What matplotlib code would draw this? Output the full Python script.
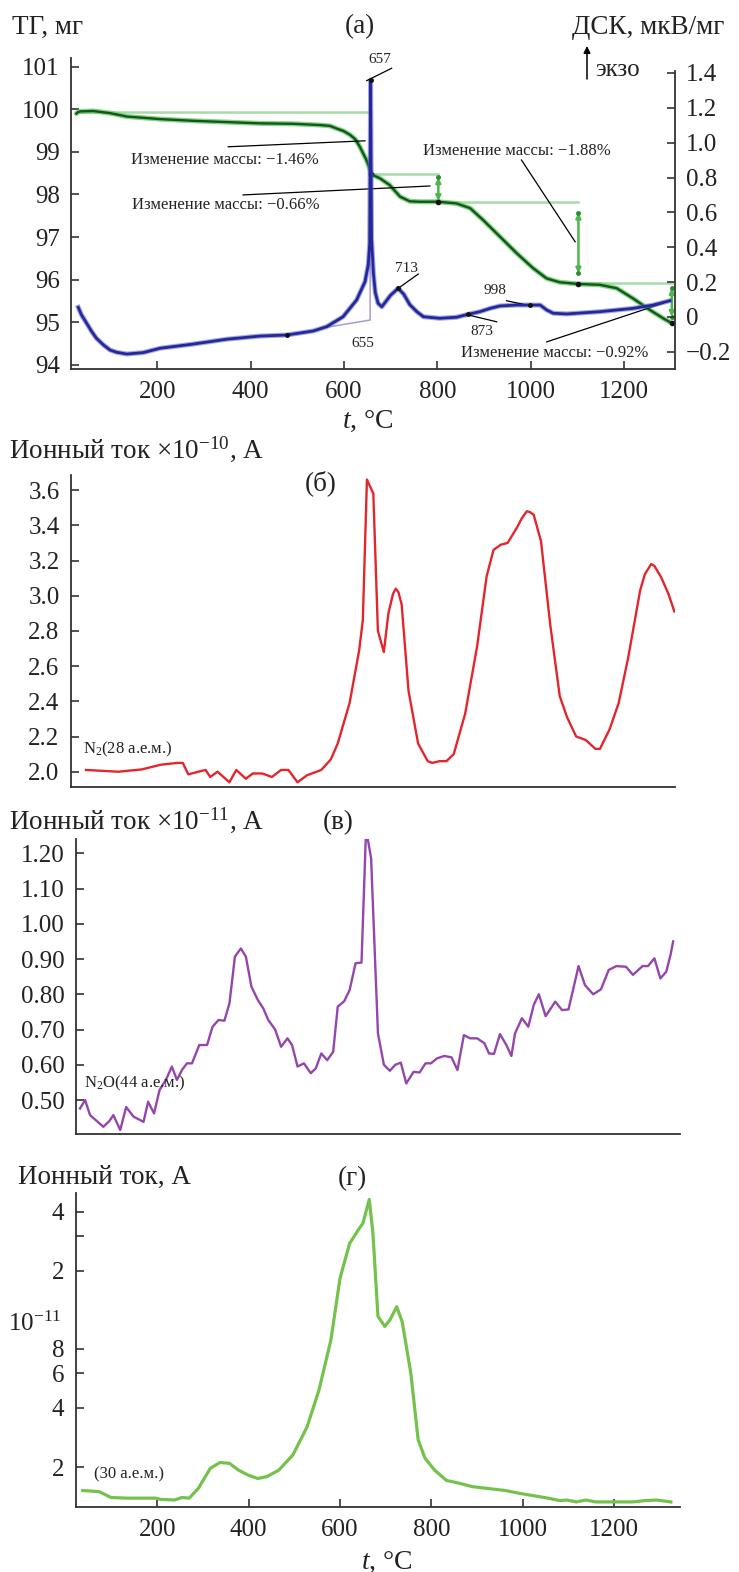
import matplotlib
matplotlib.use("Agg")
import matplotlib.pyplot as plt
from matplotlib.ticker import FixedLocator, FixedFormatter, NullLocator
from matplotlib.transforms import blended_transform_factory

plt.rcParams['font.family'] = ['Liberation Serif', 'DejaVu Serif']
plt.rcParams['mathtext.fontset'] = 'custom'
plt.rcParams['mathtext.rm'] = 'Liberation Serif'
plt.rcParams['mathtext.it'] = 'Liberation Serif:italic'
plt.rcParams['mathtext.bf'] = 'Liberation Serif:bold'

# ---------------- data ----------------
# (a) TG, mg
tg_t = [27, 30, 35, 63, 99, 135, 206, 277, 349, 420, 491, 549, 570, 584, 599, 613, 624, 634, 648,
        656, 657, 677, 698, 720, 741, 763, 802, 841, 870, 898, 934, 970, 1005, 1034, 1062, 1102,
        1148, 1184, 1219, 1255, 1284, 1302]
tg_mg = [99.90, 99.93, 99.95, 99.96, 99.91, 99.83, 99.77, 99.73, 99.70, 99.67, 99.66, 99.63,
         99.61, 99.55, 99.49, 99.40, 99.30, 99.12, 98.81, 98.58, 98.48, 98.38, 98.22, 97.95,
         97.84, 97.83, 97.83, 97.79, 97.68, 97.40, 97.01, 96.62, 96.27, 96.03, 95.94, 95.90,
         95.88, 95.80, 95.56, 95.29, 95.09, 94.98]
# (a) DSC, uV/mg
dsc_t = [31, 38, 49, 60, 70, 85, 99, 113, 135, 170, 206, 277, 349, 420, 477, 534, 563, 598, 627,
         645, 652, 655, 657, 659, 663, 667, 673, 681, 690, 700, 716, 728, 741, 756, 770, 805, 841,
         866, 891, 913, 934, 970, 998, 1020, 1034, 1048, 1077, 1148, 1219, 1262, 1298]
dsc_v = [0.055, 0.011, -0.037, -0.085, -0.123, -0.161, -0.19, -0.203, -0.213, -0.205, -0.18,
         -0.156, -0.128, -0.11, -0.104, -0.081, -0.056, 0.001, 0.097, 0.202, 0.30, 0.42, 1.36,
         0.45, 0.25, 0.14, 0.078, 0.058, 0.09, 0.125, 0.164, 0.13, 0.07, 0.03, 0.001, -0.008,
         -0.002, 0.015, 0.03, 0.049, 0.063, 0.068, 0.068, 0.068, 0.04, 0.021, 0.017, 0.03, 0.049,
         0.068, 0.093]
base_t = [562, 656, 656]
base_v = [-0.06, -0.018, 0.53]
# mass-step reference levels (TG)
step_t0 = [35, 659, 802, 1102]
step_t1 = [652, 802, 1102, 1302]
step_lv = [99.94, 98.48, 97.83, 95.92]
arrow_t = [802, 1102, 1302]
arrow_top = [98.40, 97.57, 95.80]
arrow_bot = [97.85, 96.15, 95.13]
mass_changes = ['−1.46%', '−0.66%', '−1.88%', '−0.92%']
peak_labels = ['657', '713', '998', '873', '655']

tg_ticks = [94, 95, 96, 97, 98, 99, 100, 101]
dsc_ticks = [-0.2, 0, 0.2, 0.4, 0.6, 0.8, 1.0, 1.2, 1.4]
dsc_tick_labels = ['−0.2', '0', '0.2', '0.4', '0.6', '0.8', '1.0', '1.2', '1.4']
t_ticks = [200, 400, 600, 800, 1000, 1200]

# (б) N2, x1e-10 A
n2_t = [44, 115, 166, 208, 244, 256, 268, 290, 306, 316, 332, 358, 373, 394, 409, 430, 451, 471,
        487, 507, 528, 559, 580, 595, 621, 642, 650, 659, 673, 683, 696, 706, 716, 722, 728, 735,
        750, 771, 792, 802, 818, 833, 849, 874, 900, 921, 936, 952, 967, 988, 998, 1009, 1016,
        1024, 1040, 1060, 1081, 1097, 1117, 1138, 1159, 1169, 1190, 1210, 1231, 1257, 1267, 1281,
        1288, 1303, 1319, 1332]
n2_v = [2.01, 2.0, 2.013, 2.04, 2.05, 2.05, 1.985, 2.0, 2.01, 1.97, 2.0, 1.94, 2.01, 1.96, 1.99,
        1.99, 1.97, 2.01, 2.01, 1.94, 1.98, 2.01, 2.07, 2.16, 2.39, 2.69, 2.86, 3.66, 3.58, 2.80,
        2.68, 2.90, 3.01, 3.04, 3.02, 2.95, 2.46, 2.16, 2.06, 2.05, 2.06, 2.06, 2.10, 2.33, 2.71,
        3.11, 3.26, 3.29, 3.30, 3.39, 3.44, 3.48, 3.475, 3.46, 3.31, 2.84, 2.43, 2.31, 2.20, 2.18,
        2.13, 2.13, 2.24, 2.39, 2.65, 3.03, 3.12, 3.18, 3.17, 3.105, 3.01, 2.91]
n2_ticks = [2.0, 2.2, 2.4, 2.6, 2.8, 3.0, 3.2, 3.4, 3.6]

# (в) N2O, x1e-11 A
n2o_t = [31, 42, 53, 68, 82, 95, 104, 119, 132, 148, 170, 180, 193, 205, 220, 232, 243, 254, 265,
         276, 292, 309, 321, 334, 347, 358, 370, 383, 394, 406, 420, 432, 443, 458, 471, 485, 495,
         507, 521, 536, 547, 559, 572, 585, 595, 609, 621, 634, 647, 657, 668, 683, 696, 709, 721,
         733, 745, 761, 774, 787, 799, 812, 828, 844, 857, 871, 885, 900, 916, 926, 937, 950, 964,
         975, 983, 998, 1012, 1024, 1035, 1050, 1071, 1086, 1100, 1122, 1136, 1154, 1171, 1188,
         1205, 1226, 1241, 1262, 1274, 1288, 1301, 1314, 1324, 1329]
n2o_v = [0.476, 0.50, 0.457, 0.44, 0.424, 0.44, 0.457, 0.415, 0.48, 0.453, 0.438, 0.495, 0.462,
         0.528, 0.56, 0.595, 0.557, 0.585, 0.604, 0.604, 0.656, 0.656, 0.708, 0.727, 0.725, 0.774,
         0.907, 0.93, 0.907, 0.822, 0.784, 0.76, 0.727, 0.70, 0.651, 0.675, 0.656, 0.595, 0.604,
         0.576, 0.59, 0.632, 0.613, 0.637, 0.765, 0.78, 0.812, 0.888, 0.89, 1.268, 1.186, 0.689,
         0.60, 0.583, 0.60, 0.606, 0.547, 0.58, 0.578, 0.604, 0.604, 0.618, 0.625, 0.621, 0.585,
         0.684, 0.675, 0.675, 0.661, 0.632, 0.631, 0.687, 0.656, 0.625, 0.689, 0.732, 0.708, 0.77,
         0.80, 0.738, 0.779, 0.755, 0.757, 0.88, 0.826, 0.80, 0.814, 0.869, 0.88, 0.878, 0.855,
         0.88, 0.88, 0.902, 0.845, 0.864, 0.916, 0.95]
n2o_ticks = [0.5, 0.6, 0.7, 0.8, 0.9, 1.0, 1.1, 1.2]
n2o_tick_labels = ['0.50', '0.60', '0.70', '0.80', '0.90', '1.00', '1.10', '1.20']

# (г) mass 30, A (values in units of 1e-12 A)
m30_t = [37, 73, 99, 135, 197, 207, 238, 254, 270, 290, 316, 337, 358, 378, 399, 420, 440, 466,
         497, 528, 554, 580, 600, 621, 642, 650, 664, 672, 683, 698, 709, 724, 736, 755, 771, 786,
         807, 833, 854, 890, 941, 962, 993, 1024, 1055, 1081, 1096, 1117, 1138, 1159, 1200, 1241,
         1267, 1293, 1324]
m30_v = [1.52, 1.50, 1.40, 1.39, 1.39, 1.37, 1.36, 1.40, 1.39, 1.56, 1.97, 2.11, 2.09, 1.93, 1.82,
         1.75, 1.79, 1.93, 2.31, 3.21, 4.94, 8.87, 18.3, 27.5, 32.8, 34.8, 46.1, 31.0, 11.7, 10.4,
         11.2, 13.1, 11.0, 6.0, 2.75, 2.22, 1.93, 1.71, 1.67, 1.59, 1.54, 1.52, 1.47, 1.43, 1.39,
         1.35, 1.36, 1.33, 1.36, 1.33, 1.33, 1.33, 1.35, 1.36, 1.33]
m30_scale = 1e-12
m30_ticks = [2e-12, 4e-12, 6e-12, 8e-12, 2e-11, 3e-11, 4e-11]
m30_tick_labels = ['2', '4', '6', '8', '2', '', '4']

# ---------------- figure ----------------
W, H = 739, 1572
fig = plt.figure(figsize=(W / 100, H / 100), dpi=100)

def rect(l, r, t, b):
    return [l / W, 1 - b / H, (r - l) / W, (b - t) / H]

def fx(x):
    return x / W

def fy(y):
    return 1 - y / H

TICK = 18
LAB = 19.5
ANN = 12
SMALL = 11
SPC = '#333333'
TXT = '#222222'

def style(ax, left=True, bottom=True, right=False):
    for s in ['top', 'right', 'left', 'bottom']:
        ax.spines[s].set_visible(False)
    for s, on in [('left', left), ('bottom', bottom), ('right', right)]:
        if on:
            ax.spines[s].set_visible(True)
            ax.spines[s].set_color(SPC)
            ax.spines[s].set_linewidth(1.3)
    ax.tick_params(direction='in', length=6, width=1.2, color=SPC,
                   labelsize=TICK, labelcolor=TXT)
    ax.tick_params(axis='y', pad=8)
    ax.tick_params(axis='x', pad=9)
    ax.patch.set_alpha(0)

# ----- (a) -----
ax = fig.add_axes(rect(70.8, 675, 58, 369))
style(ax)
ax.set_xlim(15, 1308.8)
ax.set_ylim(93.904, 101.204)
ax.set_xticks(t_ticks)
ax.set_yticks(tg_ticks)

ax2 = ax.twinx()
style(ax2, left=False, bottom=False, right=True)
ax2.set_ylim(-0.299, 1.486)
ax2.spines['right'].set_bounds(-0.299, 1.41)
ax2.yaxis.set_major_locator(FixedLocator(dsc_ticks))
ax2.yaxis.set_major_formatter(FixedFormatter(dsc_tick_labels))
ax2.tick_params(axis='y', right=True, left=False, labelright=True, labelleft=False)

# step reference lines
for t0, t1, lv in zip(step_t0, step_t1, step_lv):
    ax.plot([t0, t1], [lv, lv], color='#a6dca6', lw=1.8, zorder=1)
for ta, top, bot in zip(arrow_t, arrow_top, arrow_bot):
    ax.annotate('', xy=(ta, bot), xytext=(ta, top),
                arrowprops=dict(arrowstyle='<|-|>', color='#4cb84c', lw=1.8,
                                mutation_scale=7, shrinkA=0, shrinkB=0), zorder=2)
    ax.plot([ta, ta], [top, bot], 'o', color='#2e8b2e', ms=2.5, zorder=3)

ax.plot(tg_t, tg_mg, color='#6cc46c', lw=3.6, alpha=0.8, zorder=3, solid_capstyle='round',
        solid_joinstyle='round')
ax.plot(tg_t, tg_mg, color='#0d5a16', lw=1.7, zorder=4, solid_joinstyle='round')
ax.plot([657, 802, 1102, 1302], [98.48, 97.83, 95.90, 94.98], 'o', color='#111111', ms=3,
        zorder=5)

# mass change annotations
ax.plot([352, 645], [99.12, 99.26], color='black', lw=0.9, zorder=6)
ax.text(344, 98.81, 'Изменение массы: ' + mass_changes[0], fontsize=ANN, color=TXT,
        ha='center', va='center')
ax.plot([384, 784], [97.99, 98.20], color='black', lw=0.9, zorder=6)
ax.text(348, 97.75, 'Изменение массы: ' + mass_changes[1], fontsize=ANN, color=TXT,
        ha='center', va='center')
ax.plot([980, 1095], [98.81, 96.89], color='black', lw=0.9, zorder=6)
ax.text(970, 99.03, 'Изменение массы: ' + mass_changes[2], fontsize=ANN, color=TXT,
        ha='center', va='center')
ax.plot([1034, 1284], [94.54, 95.45], color='black', lw=0.9, zorder=6)
ax.text(1052, 94.29, 'Изменение массы: ' + mass_changes[3], fontsize=ANN, color=TXT,
        ha='center', va='center')

# DSC
ax2.plot(base_t, base_v, color='#a79ad8', lw=1.1, zorder=1)
ax2.plot(dsc_t, dsc_v, color='#6a70cc', lw=3.6, alpha=0.6, zorder=2, solid_joinstyle='round')
ax2.plot(dsc_t, dsc_v, color='#25289a', lw=2.0, zorder=3, solid_joinstyle='round')
ax2.plot([477, 657, 716, 866, 998], [-0.104, 1.36, 0.164, 0.015, 0.068], 'o',
         color='#111111', ms=2.5, zorder=4)
ax2.plot([648.6, 702], [1.356, 1.427], color='black', lw=0.9)
ax2.text(677, 1.475, peak_labels[0], fontsize=SMALL, color=TXT, ha='center', va='center')
ax2.plot([716, 759], [0.164, 0.246], color='black', lw=0.9)
ax2.text(734, 0.279, peak_labels[1], fontsize=SMALL, color=TXT, ha='center', va='center')
ax2.plot([948, 998], [0.093, 0.064], color='black', lw=0.9)
ax2.text(923, 0.149, peak_labels[2], fontsize=SMALL, color=TXT, ha='center', va='center')
ax2.plot([866, 927], [0.011, -0.028], color='black', lw=0.9)
ax2.text(895, -0.085, peak_labels[3], fontsize=SMALL, color=TXT, ha='center', va='center')
ax2.text(641, -0.152, peak_labels[4], fontsize=SMALL, color=TXT, ha='center', va='center')

fig.text(fx(12), fy(27), 'ТГ, мг', fontsize=LAB, color=TXT, ha='left', va='center')
fig.text(fx(360), fy(27), '(а)', fontsize=LAB, color=TXT, ha='center', va='center')
fig.text(fx(724), fy(27), 'ДСК, мкВ/мг', fontsize=LAB, color=TXT, ha='right', va='center')
ax.annotate('', xy=(fx(587), fy(46)), xycoords='figure fraction',
            xytext=(fx(587), fy(79)), textcoords='figure fraction',
            arrowprops=dict(arrowstyle='-|>', color='black', lw=1.1, mutation_scale=10,
                            shrinkA=0, shrinkB=0), annotation_clip=False)
fig.text(fx(595), fy(70), 'экзо', fontsize=LAB - 1.5, color=TXT, ha='left', va='center')
fig.text(fx(368), fy(421), r'$t$, °C', fontsize=LAB + 0.5, color=TXT, ha='center',
         va='center')

# ----- (б) -----
axb = fig.add_axes(rect(70.7, 675, 475, 786.5))
style(axb)
axb.set_xlim(10.6, 1333.3)
axb.set_ylim(1.916, 3.686)
axb.set_xticks([])
axb.set_yticks(n2_ticks)
axb.set_yticklabels([f'{v:.1f}' for v in n2_ticks])
axb.plot(n2_t, n2_v, color='#e3262e', lw=1.7, solid_joinstyle='round')
fig.text(fx(9), fy(449), r'Ионный ток ×10$^{-10}$, А', fontsize=LAB, color=TXT,
         ha='left', va='center')
fig.text(fx(321), fy(483), '(б)', fontsize=LAB, color=TXT, ha='center', va='center')
fig.text(fx(83), fy(749), r'N$_2$(28 а.е.м.)', fontsize=ANN, color=TXT, ha='left',
         va='center')

# ----- (в) -----
axc = fig.add_axes(rect(76, 680, 839.3, 1134.3))
style(axc)
axc.set_xlim(22.2, 1344)
axc.set_ylim(0.4027, 1.2397)
axc.set_xticks([])
axc.yaxis.set_major_locator(FixedLocator(n2o_ticks))
axc.yaxis.set_major_formatter(FixedFormatter(n2o_tick_labels))
axc.plot(n2o_t, n2o_v, color='#9446ad', lw=1.7, solid_joinstyle='round')
fig.text(fx(9), fy(820), r'Ионный ток ×10$^{-11}$, А', fontsize=LAB, color=TXT,
         ha='left', va='center')
fig.text(fx(338), fy(823), '(в)', fontsize=LAB, color=TXT, ha='center', va='center')
fig.text(fx(84), fy(1083), r'N$_2$O(44 а.е.м.)', fontsize=ANN, color=TXT, ha='left',
         va='center')

# ----- (г) -----
axd = fig.add_axes(rect(75.5, 680, 1193, 1507))
style(axd)
axd.set_yscale('log')
axd.set_xlim(21.1, 1344)
axd.set_ylim(1.253e-12, 4.97e-11)
axd.set_xticks(t_ticks)
axd.yaxis.set_major_locator(FixedLocator(m30_ticks))
axd.yaxis.set_major_formatter(FixedFormatter(m30_tick_labels))
axd.yaxis.set_minor_locator(NullLocator())
axd.plot(m30_t, [v * m30_scale for v in m30_v], color='#74c24c', lw=2.3,
         solid_joinstyle='round')
trans = blended_transform_factory(axd.transAxes, axd.transData)
axd.text(-0.023, 1.07e-11, r'10$^{-11}$', transform=trans, fontsize=TICK, color=TXT,
         ha='right', va='center')
fig.text(fx(18), fy(1177), 'Ионный ток, А', fontsize=LAB, color=TXT, ha='left', va='center')
fig.text(fx(352), fy(1179), '(г)', fontsize=LAB, color=TXT, ha='center', va='center')
fig.text(fx(94), fy(1474), '(30 а.е.м.)', fontsize=ANN, color=TXT, ha='left', va='center')
fig.text(fx(387), fy(1562), r'$t$, °C', fontsize=LAB + 0.5, color=TXT, ha='center',
         va='center')

fig.savefig('out.png', dpi=100)
